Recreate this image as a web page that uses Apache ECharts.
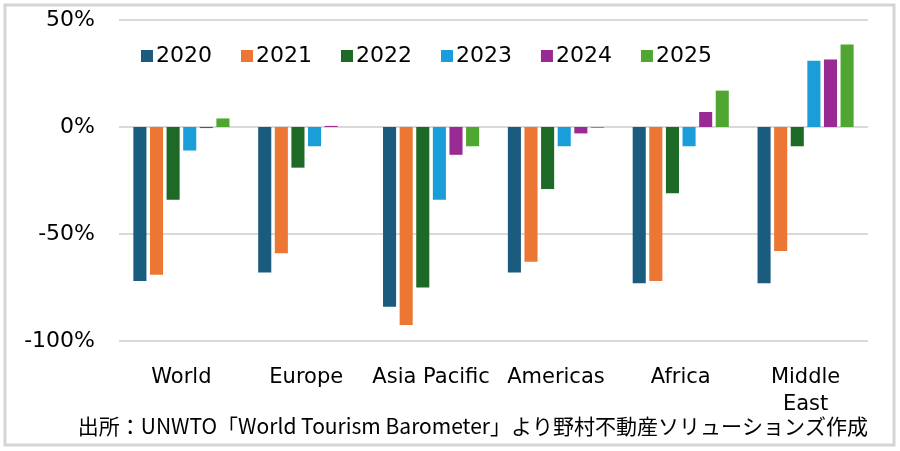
<!DOCTYPE html>
<html>
<head>
<meta charset="utf-8">
<script src="https://cdn.jsdelivr.net/npm/echarts@6/dist/echarts.min.js"></script>
<style>
  html, body { margin: 0; padding: 0; background: #fff; }
  #root { width: 900px; height: 451px; }
</style>
</head>
<body>
<div id="root"></div>
<script>
// 地域
var regions = ['World', 'Europe', 'Asia Pacific', 'Americas', 'Africa', 'Middle\nEast'];
// 年ごとの変化率(%)
var years = ['2020', '2021', '2022', '2023', '2024', '2025'];
var v2020 = [-72, -68, -84, -68, -73, -73];
var v2021 = [-69, -59, -92.5, -63, -72, -58];
var v2022 = [-34, -19, -75, -29, -31, -9];
var v2023 = [-11, -9, -34, -9, -9, 31];
var v2024 = [-0.5, 0.5, -13, -3, 7, 31.5];
var v2025 = [4, 0, -9, -0.4, 17, 38.5];
var yTicks = [-100, -50, 0, 50];

var seriesValues = [v2020, v2021, v2022, v2023, v2024, v2025];
var colors = ['#1b5c7e', '#ec7633', '#1d6a26', '#1a9ed9', '#9a2a93', '#4fa731'];
var font = '"DejaVu Sans", Verdana, sans-serif';

var option = {
  animation: false,
  color: colors,
  textStyle: { fontFamily: font },
  graphic: [
    {
      type: 'rect',
      shape: { x: 5, y: 5, width: 889, height: 440 },
      style: { fill: 'none', stroke: '#d4d4d4', lineWidth: 3 }
    },
    {
      type: 'text',
      right: 32,
      top: 416,
      style: {
        text: '出所：UNWTO「World Tourism Barometer」より野村不動産ソリューションズ作成',
        font: '21px "Noto Sans CJK JP", "Noto Sans", sans-serif',
        fill: '#000'
      }
    }
  ],
  legend: {
    data: years,
    left: 136,
    top: 40,
    itemWidth: 12,
    itemHeight: 12,
    itemGap: 29,
    icon: 'rect',
    textStyle: { fontSize: 22, color: '#000', fontFamily: font, padding: [0, 0, 0, -2] }
  },
  grid: {
    left: 119,
    right: 32,
    top: 20,
    bottom: 110
  },
  xAxis: {
    type: 'category',
    data: regions,
    axisLine: { show: false },
    axisTick: { show: false },
    axisLabel: {
      interval: 0,
      fontSize: 21,
      color: '#000',
      margin: 23,
      lineHeight: 27,
      verticalAlign: 'top',
      fontFamily: font
    }
  },
  yAxis: {
    type: 'value',
    min: yTicks[0],
    max: yTicks[yTicks.length - 1],
    interval: 50,
    axisLine: { show: false },
    axisTick: { show: false },
    axisLabel: {
      fontSize: 22,
      color: '#000',
      margin: 24,
      fontFamily: font,
      formatter: function(value) {
        return value + '%';
      }
    },
    splitLine: { lineStyle: { color: '#d9d9d9', width: 2 } }
  },
  series: years.map(function(name, i) {
    return {
      name: name,
      type: 'bar',
      data: seriesValues[i],
      barGap: '27%',
      barCategoryGap: '23%'
    };
  })
};

var myChart = echarts.init(document.getElementById('root'));
myChart.setOption(option);
</script>
</body>
</html>
